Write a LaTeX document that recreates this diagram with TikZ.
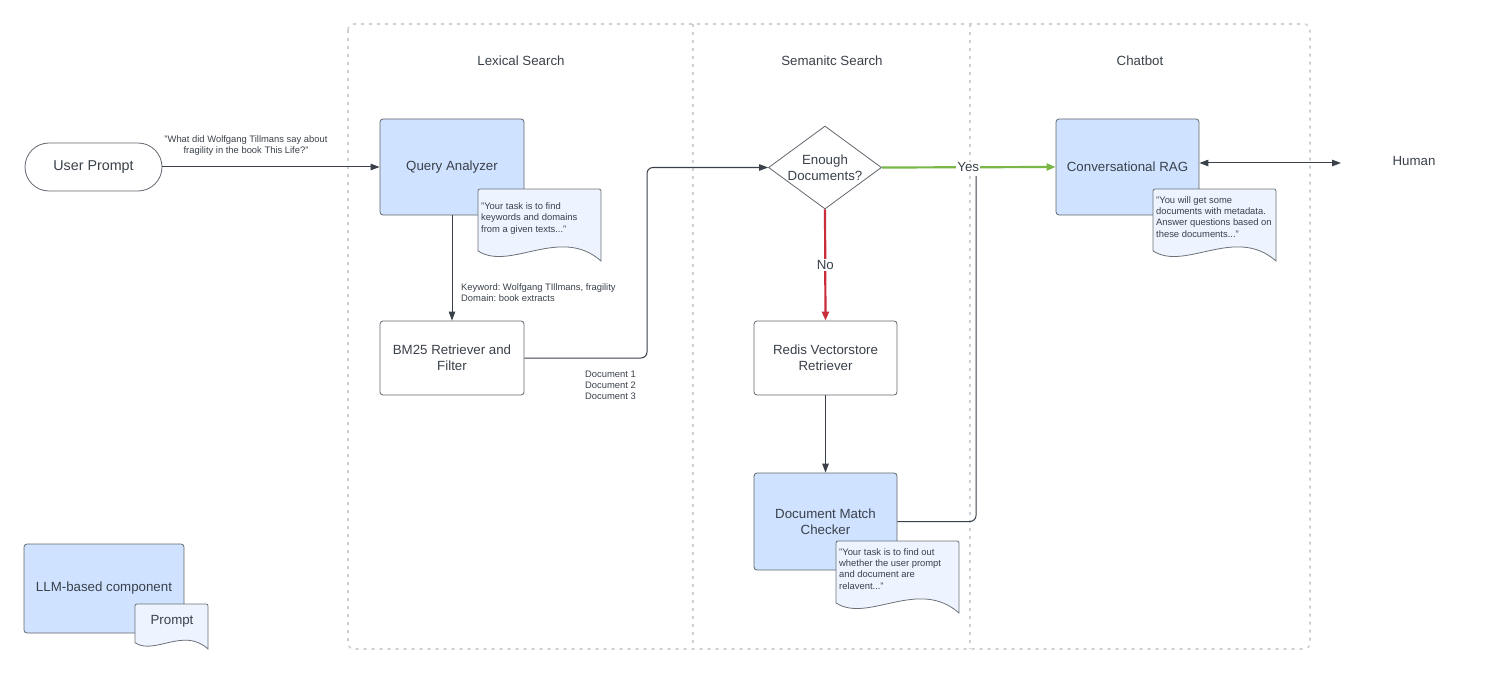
\documentclass[tikz,border=0pt]{standalone}
\usepackage{fontspec}
\setmainfont{Liberation Sans}
\usetikzlibrary{shapes.geometric,arrows.meta,calc}
\frenchspacing
\definecolor{ink}{HTML}{3A414A}
\definecolor{llmblue}{HTML}{CFE2FF}
\definecolor{docblue}{HTML}{EDF4FF}
\definecolor{lanegray}{HTML}{CDD0D5}
\definecolor{yesgreen}{HTML}{7AB648}
\definecolor{nored}{HTML}{C92D39}
\newcommand\docshape[4]{%
  \path[draw=ink!75, fill=docblue, line width=0.8pt]
    (#1,{#2+0.86*(#4-#2)}) [rounded corners=2pt] -- (#1,#2) -- (#3,#2) [sharp corners] -- (#3,#4)
    .. controls ({#1+0.67*(#3-#1)},{#2+0.5*(#4-#2)}) and ({#1+0.26*(#3-#1)},{#2+1.15*(#4-#2)}) .. cycle;}
\tikzset{
  boxbase/.style={draw=ink!80, rounded corners=3pt, line width=0.8pt, align=center, text=ink,
    font=\fontsize{13.3}{16}\selectfont, inner sep=0pt},
  llm/.style={boxbase, fill=llmblue},
  plainbox/.style={boxbase, fill=white},
  small/.style={text=ink, font=\fontsize{9.4}{11.4}\selectfont, inner sep=0pt},
  doctext/.style={small, align=left, anchor=north west},
  title/.style={text=ink, font=\fontsize{13.3}{16}\selectfont, inner sep=0pt},
  conn/.style={draw=ink, line width=1pt},
  arr/.style={conn, -{Triangle[length=9pt,width=6.5pt]}},
  lane/.style={draw=lanegray, line width=1.6pt, dash pattern=on 3pt off 5pt},
}
\begin{document}
\begin{tikzpicture}[x=1pt,y=-1pt]
\useasboundingbox (0,0) rectangle (1510,674);
% swimlanes
\draw[lane, rounded corners=6pt] (348,24) rectangle (1310,649);
\draw[lane] (693,24) -- (693,649);
\draw[lane] (970,24) -- (970,649);
\node[title] (t1) at (521,61) {Lexical Search};
\node[title] (t2) at (832,61) {Semanitc Search};
\node[title] (t3) at (1140,61) {Chatbot};
% nodes
\node[plainbox, rounded corners=24pt, minimum width=137, minimum height=48, font=\fontsize{14.3}{17}\selectfont] (up) at (93.5,167) {User Prompt};
\node[llm, minimum width=144, minimum height=96] (qa) at (452,167) {Query Analyzer};
\node[plainbox, minimum width=144, minimum height=74] (bm) at (452,358) {BM25 Retriever and\\Filter};
\node[draw=ink!80, fill=white, diamond, aspect=1.36, minimum width=113, minimum height=83, inner sep=0pt, align=center, text=ink, font=\fontsize{13.3}{16}\selectfont, line width=0.8pt] (dec) at (825,167.5) {Enough\\Documents?};
\node[plainbox, minimum width=143, minimum height=74] (rv) at (825.5,358) {Redis Vectorstore\\Retriever};
\node[llm, minimum width=143, minimum height=97] (dmc) at (825.5,521.5) {Document Match\\Checker};
\node[llm, minimum width=143, minimum height=96] (rag) at (1127.5,167) {Conversational RAG};
\node[title] (hum) at (1414,161) {Human};
\node[llm, minimum width=160, minimum height=89] (leg) at (104,588.5) {LLM-based component};
% prompt documents
\docshape{478}{189}{601}{261}
\node[doctext] (qap) at (481,202.5) {"Your task is to find\\keywords and domains\\from a given texts..."};
\docshape{836}{541}{959}{613}
\node[doctext] (dmcp) at (839,548) {"Your task is to find out\\whether the user prompt\\and document are\\relavent..."};
\docshape{1153}{189}{1276}{261}
\node[doctext] (ragp) at (1156,196) {"You will get some\\documents with metadata.\\Answer questions based on\\these documents..."};
\docshape{135}{604}{208}{649}
\node[title] (legp) at (172,621) {Prompt};
% labels
\node[small, align=center] (q) at (246,145.5) {"What did Wolfgang Tillmans say about\\fragility in the book This Life?"};
\node[small, align=left, anchor=north west] (kw) at (461,283.5) {Keyword: Wolfgang TIllmans, fragility\\Domain: book extracts};
\node[small, align=left, anchor=north west] (docs) at (585,370.5) {Document 1\\Document 2\\Document 3};
% connectors
\coordinate (bend) at (647,0);
\coordinate (join) at (976,176);
\coordinate (humend) at (1341,163);
\draw[arr] (up.east) -- (qa.west);
\draw[arr] (qa.south) -- (bm.north);
\draw[arr, rounded corners=6pt] (bm.east) -- (bm.east -| bend) -- (bend |- dec.west) -- (dec.west);
\draw[conn, rounded corners=6pt] (dmc.east) -| (join);
\draw[arr, draw=yesgreen, line width=2.2pt, -{Triangle[length=9pt,width=7pt]}] (dec.east) -- (rag.west)
  node[pos=0.497, fill=white, text=ink, inner sep=1pt, font=\fontsize{13.3}{16}\selectfont] (yes) {Yes};
\draw[arr, draw=nored, line width=2.2pt, -{Triangle[length=9pt,width=7pt]}] (dec.south) -- (rv.north)
  node[midway, fill=white, text=ink, inner sep=1.5pt, font=\fontsize{13.3}{16}\selectfont] (no) {No};
\draw[arr] (rv.south) -- (dmc.north);
\draw[conn, {Triangle[length=9pt,width=6.5pt]}-{Triangle[length=9pt,width=6.5pt]}] (rag.east |- humend) -- (humend);
\end{tikzpicture}
\end{document}
